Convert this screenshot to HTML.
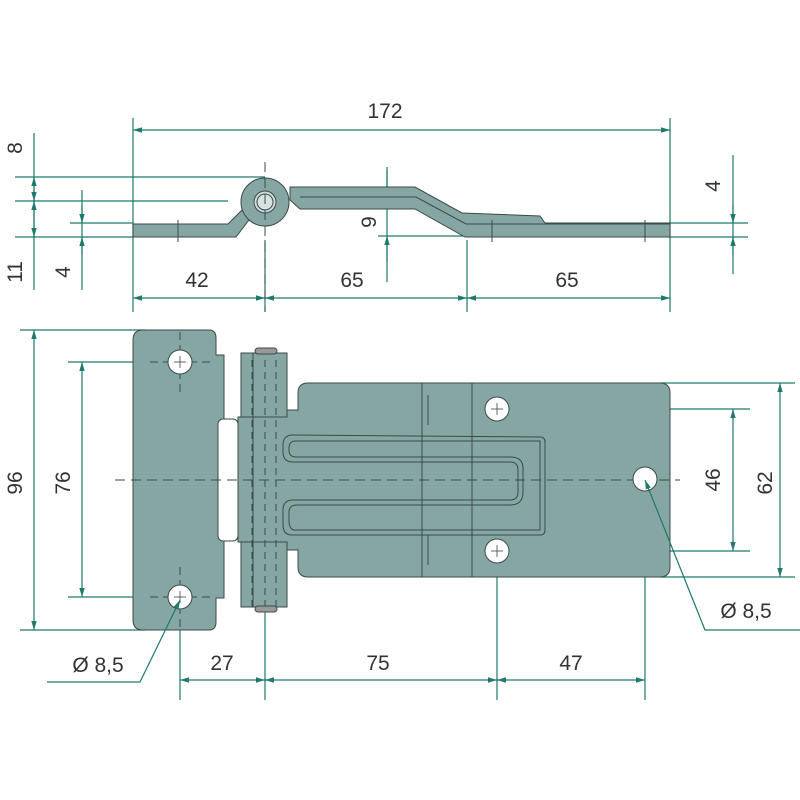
<!DOCTYPE html>
<html><head><meta charset="utf-8"><style>
html,body{margin:0;padding:0;background:#fff}
svg{display:block}
text{font-family:"Liberation Sans",sans-serif;font-size:21px;fill:#333}
</style></head><body>
<svg width="800" height="800" viewBox="0 0 800 800" xmlns="http://www.w3.org/2000/svg">
<defs>
<marker id="a" viewBox="0 0 10 10" refX="10" refY="5" markerWidth="9" markerHeight="9" orient="auto-start-reverse" markerUnits="userSpaceOnUse"><path d="M0,2 L10,5 L0,8z" fill="#1d7a6c"/></marker>
</defs>
<g stroke="#1d7a6c" stroke-width="1.2" fill="none">
<line x1="133" y1="118" x2="133" y2="312"/><line x1="670" y1="118" x2="670" y2="312"/>
<line x1="133" y1="130" x2="670" y2="130" marker-start="url(#a)" marker-end="url(#a)"/>
<line x1="265" y1="240" x2="265" y2="312"/><line x1="467" y1="240" x2="467" y2="312"/>
<line x1="133" y1="298" x2="265" y2="298" marker-start="url(#a)" marker-end="url(#a)"/>
<line x1="265" y1="298" x2="467" y2="298" marker-start="url(#a)" marker-end="url(#a)"/>
<line x1="467" y1="298" x2="670" y2="298" marker-start="url(#a)" marker-end="url(#a)"/>
<line x1="15" y1="177" x2="265" y2="177"/><line x1="15" y1="201" x2="228" y2="201"/><line x1="15" y1="237" x2="133" y2="237"/><line x1="70" y1="223" x2="133" y2="223"/>
<line x1="34" y1="133" x2="34" y2="290"/>
<line x1="34" y1="177" x2="34" y2="201" marker-start="url(#a)" marker-end="url(#a)"/>
<line x1="34" y1="201" x2="34" y2="237" marker-start="url(#a)" marker-end="url(#a)"/>
<line x1="82" y1="190" x2="82" y2="290"/>
<line x1="82" y1="205" x2="82" y2="223" marker-end="url(#a)"/><line x1="82" y1="255" x2="82" y2="237" marker-end="url(#a)"/>
<line x1="387" y1="167" x2="387" y2="282"/><line x1="378" y1="236" x2="467" y2="236"/>
<line x1="387" y1="170" x2="387" y2="197" marker-end="url(#a)"/><line x1="387" y1="262" x2="387" y2="236" marker-end="url(#a)"/>
<line x1="670" y1="223" x2="748" y2="223"/><line x1="670" y1="237" x2="748" y2="237"/>
<line x1="733" y1="155" x2="733" y2="274"/>
<line x1="733" y1="205" x2="733" y2="223" marker-end="url(#a)"/><line x1="733" y1="255" x2="733" y2="237" marker-end="url(#a)"/>
<line x1="20" y1="330" x2="145" y2="330"/><line x1="20" y1="630" x2="145" y2="630"/>
<line x1="34" y1="330" x2="34" y2="630" marker-start="url(#a)" marker-end="url(#a)"/>
<line x1="68" y1="362" x2="165" y2="362"/><line x1="68" y1="597" x2="165" y2="597"/>
<line x1="82" y1="362" x2="82" y2="597" marker-start="url(#a)" marker-end="url(#a)"/>
<line x1="660" y1="383" x2="795" y2="383"/><line x1="660" y1="577" x2="795" y2="577"/>
<line x1="780" y1="383" x2="780" y2="577" marker-start="url(#a)" marker-end="url(#a)"/>
<line x1="512" y1="409" x2="750" y2="409"/><line x1="512" y1="551" x2="750" y2="551"/>
<line x1="733" y1="409" x2="733" y2="551" marker-start="url(#a)" marker-end="url(#a)"/>
<line x1="180" y1="610" x2="180" y2="700"/><line x1="265" y1="612" x2="265" y2="700"/><line x1="497" y1="563" x2="497" y2="700"/><line x1="645" y1="492" x2="645" y2="700"/>
<line x1="180" y1="680" x2="265" y2="680" marker-start="url(#a)" marker-end="url(#a)"/>
<line x1="265" y1="680" x2="497" y2="680" marker-start="url(#a)" marker-end="url(#a)"/>
<line x1="497" y1="680" x2="645" y2="680" marker-start="url(#a)" marker-end="url(#a)"/>
</g>
<g fill="#86a6a4" stroke="#3a4a4a" stroke-width="1">
<path d="M133,224 L228,224 L248,204 L255,212 L236,237 L133,237 Z"/>
<path d="M290,187 L415,187 L462,213 L540,216 L545,223 L670,223 L670,237 L465,237 L415,209 L300,209 L290,200 Z"/>
<circle cx="265" cy="202" r="24"/>
<circle cx="265" cy="202" r="11" fill="#cfdcdb"/>
<circle cx="265" cy="202" r="8" fill="#d8e2e1"/>
</g>
<g stroke="#3a4a4a" stroke-width="1" fill="none">
<path d="M300,197 L416,197 L466,224 L670,224"/>
<line x1="265" y1="162" x2="265" y2="312" stroke-dasharray="10,6"/>
<line x1="178" y1="220" x2="178" y2="242"/><line x1="492" y1="220" x2="492" y2="242"/><line x1="645" y1="220" x2="645" y2="242"/>
</g>
<g fill="#86a6a4" stroke="#3a4a4a" stroke-width="1">
<path d="M143,330 L209,330 Q216,330 216,338 L216,355 L224,355 L224,598 L216,598 L216,622 Q216,630 209,630 L143,630 Q133,630 133,620 L133,340 Q133,330 143,330 Z"/>
<rect x="241" y="353" width="46" height="254"/>
<path d="M238,417 L287,417 L287,410 L298,410 L298,393 Q298,383 308,383 L660,383 Q670,383 670,393 L670,567 Q670,577 660,577 L308,577 Q298,577 298,567 L298,550 L287,550 L287,542 L238,542 Z"/>
</g>
<rect x="218" y="419" width="20" height="122" rx="5" fill="#fff" stroke="#3a4a4a"/>
<g stroke="#3a4a4a" stroke-width="1" fill="none">
<line x1="422" y1="383" x2="422" y2="577"/><line x1="472" y1="383" x2="472" y2="577"/>
<line x1="253" y1="353" x2="253" y2="607"/>
<line x1="252" y1="360" x2="252" y2="607" stroke-dasharray="7,5"/><line x1="265" y1="360" x2="265" y2="607" stroke-dasharray="7,5"/><line x1="276" y1="360" x2="276" y2="607" stroke-dasharray="7,5"/>
<path d="M545,440 L545,530 Q545,535 540,535 L292,535 Q283,535 283,525 L283,510 Q283,500 293,500 L510,500 Q518,500 518,492 L518,470 Q518,462 510,462 L293,462 Q283,462 283,452 L283,445 Q283,435 293,435 L540,437 Q545,437 545,442"/>
<path d="M540,441 L540,530 L295,530 Q289,530 289,520 L289,512 Q289,505 297,505 L510,505 Q523,505 523,492 L523,468 Q523,457 510,457 L296,457 Q289,457 289,450 L289,448 Q289,441 296,441 Z"/>
<line x1="115" y1="480" x2="680" y2="480" stroke-dasharray="10,6"/>
<line x1="150" y1="362" x2="210" y2="362" stroke-dasharray="8,5"/><line x1="180" y1="332" x2="180" y2="392" stroke-dasharray="8,5"/>
<line x1="150" y1="597" x2="210" y2="597" stroke-dasharray="8,5"/><line x1="180" y1="567" x2="180" y2="627" stroke-dasharray="8,5"/>
<line x1="428" y1="395" x2="428" y2="425"/><line x1="428" y1="535" x2="428" y2="565"/>
</g>
<g fill="#fff" stroke="#3a4a4a" stroke-width="1">
<circle cx="180" cy="362" r="12"/><circle cx="180" cy="597" r="12"/>
<circle cx="497" cy="409" r="12"/><circle cx="497" cy="551" r="12"/><circle cx="645" cy="479" r="12"/>
<rect x="255" y="348" width="22" height="6" rx="3" fill="#999"/><rect x="255" y="606" width="22" height="6" rx="3" fill="#999"/>
</g>
<g stroke="#3a4a4a" stroke-width="0.8">
<line x1="174" y1="362" x2="186" y2="362"/><line x1="180" y1="356" x2="180" y2="368"/>
<line x1="174" y1="597" x2="186" y2="597"/><line x1="180" y1="591" x2="180" y2="603"/>
<line x1="491" y1="409" x2="503" y2="409"/><line x1="497" y1="403" x2="497" y2="415"/>
<line x1="491" y1="551" x2="503" y2="551"/><line x1="497" y1="545" x2="497" y2="557"/>
</g>
<g stroke="#1d7a6c" stroke-width="1.2" fill="none">
<polyline points="47,682 140,682 180,600" marker-end="url(#a)"/>
<polyline points="800,630 705,630 645,480" marker-end="url(#a)"/>
</g>
<text x="385" y="118" text-anchor="middle">172</text>
<text x="197" y="287" text-anchor="middle">42</text>
<text x="352" y="287" text-anchor="middle">65</text>
<text x="567" y="287" text-anchor="middle">65</text>
<text transform="translate(22,148) rotate(-90)" text-anchor="middle">8</text>
<text transform="translate(22,272) rotate(-90)" text-anchor="middle">11</text>
<text transform="translate(70,272) rotate(-90)" text-anchor="middle">4</text>
<text transform="translate(376,222) rotate(-90)" text-anchor="middle">9</text>
<text transform="translate(720,186) rotate(-90)" text-anchor="middle">4</text>
<text transform="translate(22,483) rotate(-90)" text-anchor="middle">96</text>
<text transform="translate(70,483) rotate(-90)" text-anchor="middle">76</text>
<text transform="translate(720,480) rotate(-90)" text-anchor="middle">46</text>
<text transform="translate(772,483) rotate(-90)" text-anchor="middle">62</text>
<text x="222" y="670" text-anchor="middle">27</text>
<text x="378" y="670" text-anchor="middle">75</text>
<text x="571" y="670" text-anchor="middle">47</text>
<text x="98" y="672" text-anchor="middle">Ø 8,5</text>
<text x="746" y="618" text-anchor="middle">Ø 8,5</text>
</svg>
</body></html>
